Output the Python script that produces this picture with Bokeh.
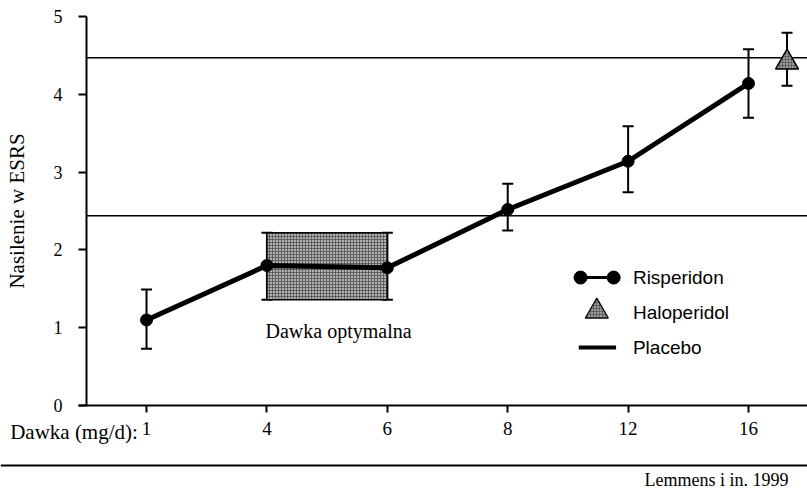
from bokeh.plotting import figure
from bokeh.models import FixedTicker, Label, Range1d, ColumnDataSource, Whisker, TeeHead
from bokeh.embed import file_html
from bokeh.resources import INLINE

# ---- data ----
doses = ["1", "4", "6", "8", "12", "16"]
ris_mean = [1.10, 1.80, 1.77, 2.52, 3.14, 4.14]
ris_low = [0.73, 1.36, 1.36, 2.25, 2.74, 3.70]
ris_high = [1.49, 2.22, 2.22, 2.85, 3.59, 4.58]
halo_mean = [4.41]
halo_low = [4.11]
halo_high = [4.79]
placebo = [2.44, 4.47]
y_ticks = [0, 1, 2, 3, 4, 5]
optimal = ("4", "6")
source_note = "Lemmens i in. 1999"

SERIF = "Liberation Serif"
SANS = "Liberation Sans"

idx = list(range(len(doses)))
HALO_X = 5.32          # haloperidol drawn just right of the last dose
X0, X1 = -1.213, 5.49  # full canvas in data units
Y0, Y1 = -1.105, 5.206
YAX = -0.498           # where the y axis sits

p = figure(width=807, height=491, x_range=Range1d(X0, X1), y_range=Range1d(Y0, Y1),
           output_backend="svg", toolbar_location=None,
           min_border_left=0, min_border_right=0, min_border_top=0, min_border_bottom=0)
p.outline_line_color = None
p.grid.visible = False
p.background_fill_color = "white"

# axes (drawn at fixed positions inside the canvas)
p.xaxis.fixed_location = 0
p.xaxis.bounds = (-0.565, X1)
p.xaxis.ticker = FixedTicker(ticks=idx)
p.xaxis.major_label_overrides = {i: d for i, d in zip(idx, doses)}
p.xaxis.major_tick_out = 7
p.xaxis.major_tick_in = 0
p.xaxis.minor_tick_out = 0
p.xaxis.minor_tick_in = 0
p.xaxis.axis_line_width = 2
p.xaxis.major_tick_line_width = 2
p.xaxis.major_label_text_font = SERIF
p.xaxis.major_label_text_font_size = "19px"
p.xaxis.major_label_text_color = "black"
p.xaxis.major_label_standoff = 9

p.yaxis.fixed_location = YAX
p.yaxis.bounds = (0, 5)
p.yaxis.ticker = FixedTicker(ticks=y_ticks)
p.yaxis.major_tick_out = 8
p.yaxis.major_tick_in = 0
p.yaxis.minor_tick_out = 0
p.yaxis.minor_tick_in = 0
p.yaxis.axis_line_width = 2
p.yaxis.major_tick_line_width = 2
p.yaxis.major_label_text_font = SERIF
p.yaxis.major_label_text_font_size = "18px"
p.yaxis.major_label_text_color = "black"
p.yaxis.major_label_standoff = 16
p.yaxis.axis_label = "Nasilenie w ESRS"
p.yaxis.axis_label_text_font = SERIF
p.yaxis.axis_label_text_font_style = "normal"
p.yaxis.axis_label_text_font_size = "21px"
p.yaxis.axis_label_text_color = "black"
p.yaxis.axis_label_standoff = 22

# placebo lines
p.segment(x0=[YAX] * len(placebo), y0=placebo, x1=[X1] * len(placebo), y1=placebo,
          line_color="black", line_width=1.6)

# optimal dose box
i0, i1 = doses.index(optimal[0]), doses.index(optimal[1])
p.quad(left=[i0], right=[i1], bottom=[min(ris_low[i0], ris_low[i1])],
       top=[max(ris_high[i0], ris_high[i1])],
       fill_color="#b0b0b0", hatch_pattern="+", hatch_color="#505050", hatch_scale=3,
       hatch_weight=0.8, line_color="black", line_width=1.5)

# error bars
src = ColumnDataSource(dict(x=idx, y=ris_mean, lo=ris_low, hi=ris_high))
p.add_layout(Whisker(base="x", upper="hi", lower="lo", source=src, line_width=2,
                     upper_head=TeeHead(size=11, line_width=2),
                     lower_head=TeeHead(size=11, line_width=2)))
hsrc = ColumnDataSource(dict(x=[HALO_X], y=halo_mean, lo=halo_low, hi=halo_high))
p.add_layout(Whisker(base="x", upper="hi", lower="lo", source=hsrc, line_width=2,
                     upper_head=TeeHead(size=11, line_width=2),
                     lower_head=TeeHead(size=11, line_width=2)))

# risperidon line + markers
p.line("x", "y", source=src, line_width=5, line_color="black")
p.scatter("x", "y", source=src, size=12, fill_color="black", line_color="black")

# haloperidol
p.scatter("x", "y", source=hsrc, marker="triangle", size=23, fill_color="#999999",
          hatch_pattern="+", hatch_color="#444444", hatch_scale=3, hatch_weight=0.6,
          line_color="black", line_width=1.5)

# annotations
p.add_layout(Label(x=1.595, y=0.96, text="Dawka optymalna", text_align="center",
                   text_baseline="middle", text_font=SERIF, text_font_size="20px",
                   text_color="black"))
p.add_layout(Label(x=-0.072, y=-0.345, text="Dawka (mg/d):", text_align="right",
                   text_baseline="middle", text_font=SERIF, text_font_size="21px",
                   text_color="black"))

# legend (manual)
LX0, LX1, LT = 3.605, 3.88, 4.04
p.line([LX0, LX1], [1.645, 1.645], line_width=3, line_color="black")
p.scatter([LX0, LX1], [1.645, 1.645], size=13, fill_color="black", line_color="black")
p.scatter([3.74], [1.21], marker="triangle", size=23, fill_color="#999999",
          hatch_pattern="+", hatch_color="#444444", hatch_scale=3, hatch_weight=0.6,
          line_color="black", line_width=1.2)
p.line([3.59, 3.90], [0.745, 0.745], line_width=4, line_color="black")
for txt, yy in [("Risperidon", 1.645), ("Haloperidol", 1.19), ("Placebo", 0.745)]:
    p.add_layout(Label(x=LT, y=yy, text=txt, text_align="left", text_baseline="middle",
                       text_font=SANS, text_font_size="19px", text_color="black"))

# footer rule and source note
p.segment(x0=[X0], y0=[-0.771], x1=[X1], y1=[-0.771], line_width=2, line_color="black")
p.add_layout(Label(x=5.332, y=-0.951, text=source_note, text_align="right",
                   text_baseline="middle", text_font=SERIF, text_font_size="18px",
                   text_color="black"))

open("out.html", "w").write(file_html(p, INLINE))
